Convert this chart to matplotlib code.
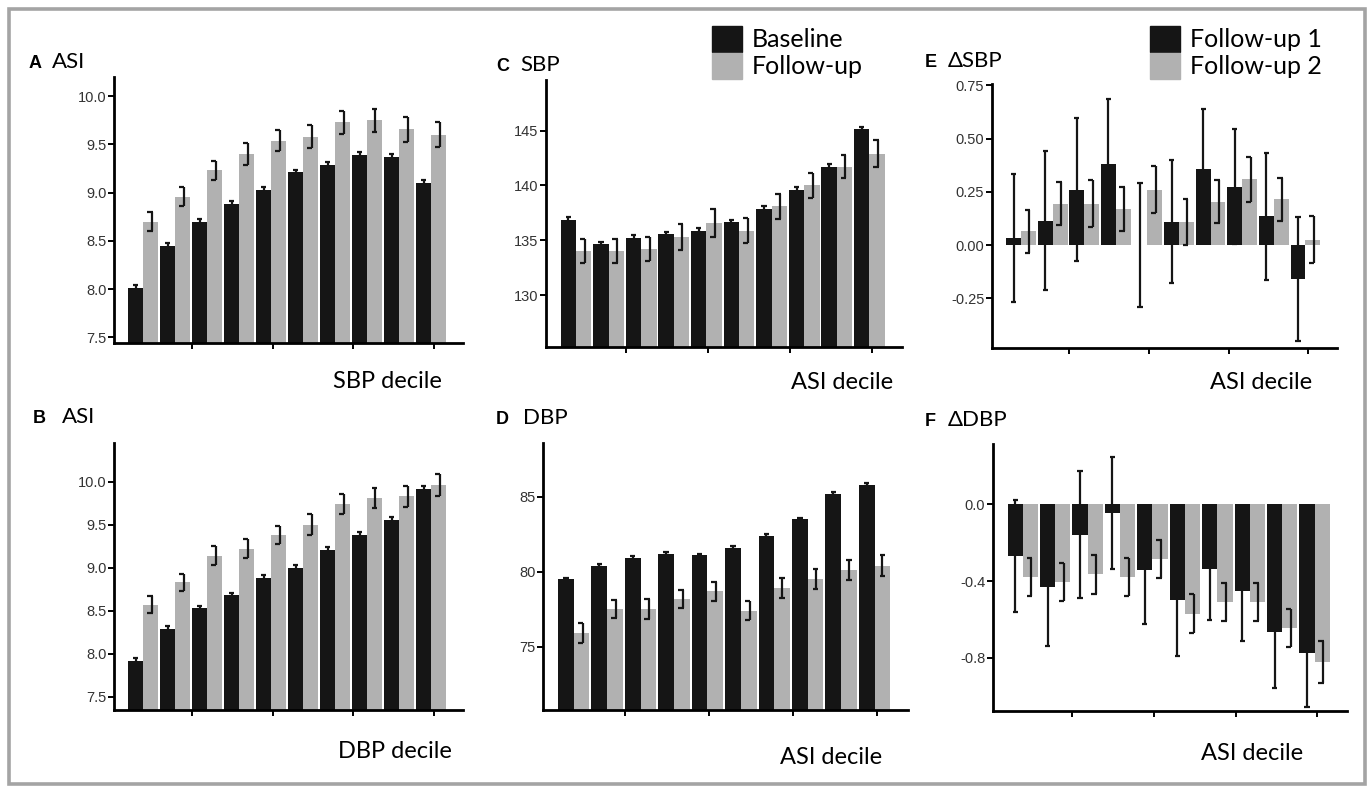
import numpy as np
import matplotlib
matplotlib.use("Agg")
import matplotlib.pyplot as plt
from matplotlib.patches import Rectangle

# values, one entry per decile
A_base = [8.01, 8.45, 8.70, 8.88, 9.03, 9.21, 9.29, 9.39, 9.37, 9.10]
A_base_err = [0.03, 0.03, 0.03, 0.03, 0.03, 0.03, 0.03, 0.03, 0.03, 0.03]
A_fu = [8.70, 8.96, 9.23, 9.40, 9.54, 9.58, 9.73, 9.75, 9.66, 9.60]
A_fu_err = [0.10, 0.10, 0.10, 0.11, 0.11, 0.12, 0.12, 0.12, 0.13, 0.13]

B_base = [7.92, 8.29, 8.53, 8.68, 8.88, 9.00, 9.20, 9.38, 9.55, 9.92]
B_base_err = [0.03, 0.03, 0.03, 0.03, 0.03, 0.03, 0.04, 0.03, 0.04, 0.03]
B_fu = [8.57, 8.83, 9.14, 9.22, 9.38, 9.50, 9.74, 9.81, 9.83, 9.96]
B_fu_err = [0.10, 0.10, 0.11, 0.11, 0.11, 0.12, 0.12, 0.12, 0.12, 0.13]

C_base = [136.9, 134.7, 135.2, 135.6, 135.9, 136.7, 137.9, 139.6, 141.7, 145.1]
C_base_err = [0.2, 0.2, 0.25, 0.2, 0.25, 0.2, 0.25, 0.25, 0.25, 0.25]
C_fu = [134.0, 134.0, 134.2, 135.3, 136.6, 135.9, 138.1, 140.0, 141.7, 142.9]
C_fu_err = [1.1, 1.1, 1.1, 1.15, 1.25, 1.1, 1.15, 1.15, 1.05, 1.2]

D_base = [79.5, 80.4, 80.9, 81.2, 81.1, 81.6, 82.4, 83.5, 85.2, 85.8]
D_base_err = [0.1, 0.1, 0.15, 0.1, 0.1, 0.1, 0.1, 0.1, 0.1, 0.1]
D_fu = [75.9, 77.5, 77.5, 78.2, 78.7, 77.4, 78.9, 79.5, 80.1, 80.4]
D_fu_err = [0.65, 0.6, 0.65, 0.6, 0.63, 0.65, 0.65, 0.65, 0.65, 0.7]

E_fu1 = [0.035, 0.115, 0.26, 0.38, 0.0, 0.11, 0.36, 0.275, 0.135, -0.16]
E_fu1_err = [0.30, 0.325, 0.335, 0.305, 0.29, 0.29, 0.28, 0.27, 0.30, 0.29]
E_fu2 = [0.065, 0.195, 0.195, 0.17, 0.26, 0.11, 0.205, 0.31, 0.215, 0.025]
E_fu2_err = [0.10, 0.10, 0.11, 0.105, 0.11, 0.107, 0.10, 0.105, 0.10, 0.11]

F_fu1 = [-0.27, -0.43, -0.16, -0.045, -0.345, -0.50, -0.335, -0.45, -0.665, -0.775]
F_fu1_err = [0.29, 0.31, 0.33, 0.29, 0.28, 0.29, 0.27, 0.26, 0.29, 0.28]
F_fu2 = [-0.38, -0.405, -0.365, -0.38, -0.285, -0.57, -0.51, -0.51, -0.645, -0.82]
F_fu2_err = [0.10, 0.10, 0.10, 0.10, 0.10, 0.10, 0.10, 0.10, 0.10, 0.11]

W, H = 1369, 787
BLACK = "#151515"
GRAY = "#b1b1b1"
TXT = ["Lato", "DejaVu Sans"]

fig = plt.figure(figsize=(W / 100, H / 100), dpi=100)


def rect(left, right, top, bottom):
    return [left / W, 1 - bottom / H, (right - left) / W, (bottom - top) / H]


def err(ax, x, y, e, bracket):
    ax.vlines(x, y - e, y + e, color=BLACK, lw=1.6, zorder=4)
    if bracket:
        ax.hlines([y - e, y + e], x - 0.15, x + 0.02, color=BLACK, lw=1.6, zorder=4)
    else:
        ax.hlines([y - e, y + e], x - 0.08, x + 0.08, color=BLACK, lw=1.6, zorder=4)


def panel(r, s1, e1, s2, e2, ylim, yticks, fmt, sym=()):
    ax = fig.add_axes(rect(*r))
    x = np.arange(10)
    w = 0.47
    ax.bar(x - w / 2, s1, width=w, color=BLACK, lw=0, zorder=2)
    ax.bar(x + w / 2, s2, width=w, color=GRAY, lw=0, zorder=2)
    for i in range(10):
        err(ax, x[i] - w / 2, s1[i], e1[i], False)
        if i in sym:
            err(ax, x[i] + w / 2, s2[i], e2[i], False)
        else:
            err(ax, x[i] + w / 2 + 0.03, s2[i], e2[i], True)
    ax.set_xlim(-0.92, 10.0)
    ax.set_ylim(*ylim)
    ax.set_yticks(yticks)
    ax.set_yticklabels([fmt % t for t in yticks], family="Liberation Sans")
    ax.set_xticks([1.53, 4.06, 6.57, 9.08])
    ax.set_xticklabels([])
    for s in ["top", "right"]:
        ax.spines[s].set_visible(False)
    for s in ["left", "bottom"]:
        ax.spines[s].set_linewidth(2)
    ax.tick_params(direction="out", length=4, width=1.4, labelsize=10.5,
                   labelcolor="#333333", pad=1.5)
    ax.set_facecolor("none")
    return ax


axA = panel((114, 463, 77, 343), A_base, A_base_err, A_fu, A_fu_err,
            (7.44, 10.2), [7.5, 8.0, 8.5, 9.0, 9.5, 10.0], "%.1f", sym=(7,))
axB = panel((114, 463, 443, 710), B_base, B_base_err, B_fu, B_fu_err,
            (7.345, 10.45), [7.5, 8.0, 8.5, 9.0, 9.5, 10.0], "%.1f", sym=(7,))
axC = panel((546, 902, 80, 347), C_base, C_base_err, C_fu, C_fu_err,
            (125.3, 149.6), [130, 135, 140, 145], "%d")
axD = panel((543, 908, 443, 710), D_base, D_base_err, D_fu, D_fu_err,
            (70.76, 88.6), [75, 80, 85], "%d", sym=(6, 7, 8, 9))
axE = panel((992, 1337, 84, 348), E_fu1, E_fu1_err, E_fu2, E_fu2_err,
            (-0.483, 0.757), [-0.25, 0.0, 0.25, 0.5, 0.75], "%.2f")
axF = panel((993, 1347, 444, 711), F_fu1, F_fu1_err, F_fu2, F_fu2_err,
            (-1.076, 0.3125), [-0.8, -0.4, 0.0], "%.1f")

# panel titles
titles = [("A", "ASI", 29, 52, 68), ("B", "ASI", 33, 62, 423),
          ("C", "SBP", 496, 520, 71), ("D", "DBP", 496, 523, 424),
          ("E", "\u0394SBP", 925, 948, 67), ("F", "\u0394DBP", 925, 948, 426)]
for let, name, xl, xn, yb in titles:
    fig.text(xl / W, 1 - yb / H, let, family="Liberation Sans", weight="bold",
             fontsize=13, va="baseline", ha="left")
    fig.text(xn / W, 1 - yb / H, name, family=TXT, fontsize=16,
             va="baseline", ha="left")

xlabels = [("SBP decile", 442, 382), ("DBP decile", 452, 752),
           ("ASI decile", 893, 383), ("ASI decile", 882, 758),
           ("ASI decile", 1312, 383), ("ASI decile", 1303, 754)]
for lab, xr, yc in xlabels:
    fig.text(xr / W, 1 - yc / H, lab, family=TXT, fontsize=17,
             va="center", ha="right")

# legends
for ax, labels, xpx in [(axC, ["Baseline", "Follow-up"], 712),
                        (axE, ["Follow-up 1", "Follow-up 2"], 1150)]:
    hs = [Rectangle((0, 0), 1, 1, color=BLACK), Rectangle((0, 0), 1, 1, color=GRAY)]
    fig.legend(hs, labels, loc="upper left", bbox_to_anchor=(xpx / W, 1 - 26 / H),
               frameon=False, prop={"family": TXT, "size": 18},
               handlelength=1.2, handleheight=1.2, labelspacing=0.06,
               handletextpad=0.4, borderpad=0, borderaxespad=0)

fig.patches.append(Rectangle((9 / W, 1 - 784 / H), 1356 / W, 775 / H,
                             transform=fig.transFigure, fill=False,
                             edgecolor="#a4a4a4", lw=2.6))

fig.savefig("out.png", dpi=100)
